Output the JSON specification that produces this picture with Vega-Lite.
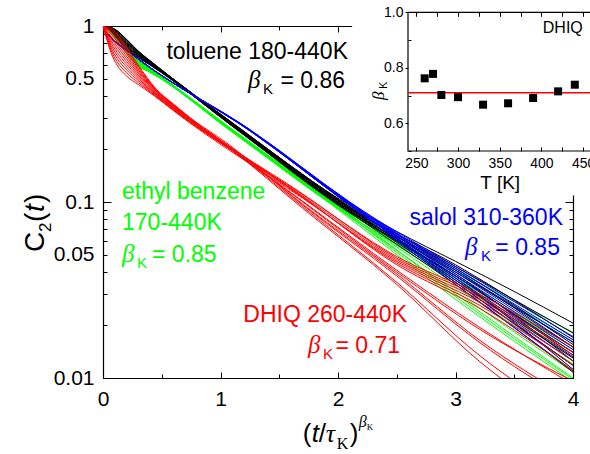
{
"$schema":"https://vega.github.io/schema/vega-lite/v6.json",
"width":470,"height":352,
"autosize":{"type":"none"},
"padding":{"left":103,"top":26,"right":17,"bottom":76},
"background":"white",
"config":{"view":{"stroke":null},"axis":{"labelFont":"Liberation Sans","titleFont":"Liberation Sans"}},
"datasets":{
"curves":[
{"g":"k","c":"k0","x":0,"y":1},{"g":"k","c":"k0","x":0.05,"y":0.99},{"g":"k","c":"k0","x":0.1,"y":0.96},{"g":"k","c":"k0","x":0.2,"y":0.84},{"g":"k","c":"k0","x":0.3,"y":0.72},{"g":"k","c":"k0","x":0.4,"y":0.635},{"g":"k","c":"k0","x":1.15,"y":0.266},{"g":"k","c":"k0","x":2,"y":0.104},{"g":"k","c":"k0","x":3,"y":0.04},{"g":"k","c":"k0","x":4,"y":0.016},
{"g":"k","c":"k1","x":0,"y":1},{"g":"k","c":"k1","x":0.05,"y":0.987},{"g":"k","c":"k1","x":0.1,"y":0.953},{"g":"k","c":"k1","x":0.2,"y":0.831},{"g":"k","c":"k1","x":0.3,"y":0.715},{"g":"k","c":"k1","x":0.4,"y":0.632},{"g":"k","c":"k1","x":1.15,"y":0.265},{"g":"k","c":"k1","x":2,"y":0.103},{"g":"k","c":"k1","x":3,"y":0.043},{"g":"k","c":"k1","x":4,"y":0.018},
{"g":"k","c":"k2","x":0,"y":1},{"g":"k","c":"k2","x":0.05,"y":0.985},{"g":"k","c":"k2","x":0.1,"y":0.945},{"g":"k","c":"k2","x":0.2,"y":0.822},{"g":"k","c":"k2","x":0.3,"y":0.709},{"g":"k","c":"k2","x":0.4,"y":0.629},{"g":"k","c":"k2","x":1.15,"y":0.264},{"g":"k","c":"k2","x":2,"y":0.103},{"g":"k","c":"k2","x":3,"y":0.036},{"g":"k","c":"k2","x":4,"y":0.013},
{"g":"k","c":"k3","x":0,"y":1},{"g":"k","c":"k3","x":0.05,"y":0.982},{"g":"k","c":"k3","x":0.1,"y":0.938},{"g":"k","c":"k3","x":0.2,"y":0.813},{"g":"k","c":"k3","x":0.3,"y":0.704},{"g":"k","c":"k3","x":0.4,"y":0.625},{"g":"k","c":"k3","x":1.15,"y":0.263},{"g":"k","c":"k3","x":2,"y":0.102},{"g":"k","c":"k3","x":3,"y":0.041},{"g":"k","c":"k3","x":4,"y":0.015},
{"g":"k","c":"k4","x":0,"y":1},{"g":"k","c":"k4","x":0.05,"y":0.979},{"g":"k","c":"k4","x":0.1,"y":0.931},{"g":"k","c":"k4","x":0.2,"y":0.804},{"g":"k","c":"k4","x":0.3,"y":0.698},{"g":"k","c":"k4","x":0.4,"y":0.622},{"g":"k","c":"k4","x":1.15,"y":0.262},{"g":"k","c":"k4","x":2,"y":0.101},{"g":"k","c":"k4","x":3,"y":0.038},{"g":"k","c":"k4","x":4,"y":0.014},
{"g":"k","c":"k5","x":0,"y":1},{"g":"k","c":"k5","x":0.05,"y":0.976},{"g":"k","c":"k5","x":0.1,"y":0.924},{"g":"k","c":"k5","x":0.2,"y":0.795},{"g":"k","c":"k5","x":0.3,"y":0.693},{"g":"k","c":"k5","x":0.4,"y":0.619},{"g":"k","c":"k5","x":1.15,"y":0.261},{"g":"k","c":"k5","x":2,"y":0.1},{"g":"k","c":"k5","x":3,"y":0.044},{"g":"k","c":"k5","x":4,"y":0.017},
{"g":"k","c":"k6","x":0,"y":1},{"g":"k","c":"k6","x":0.05,"y":0.974},{"g":"k","c":"k6","x":0.1,"y":0.916},{"g":"k","c":"k6","x":0.2,"y":0.785},{"g":"k","c":"k6","x":0.3,"y":0.687},{"g":"k","c":"k6","x":0.4,"y":0.616},{"g":"k","c":"k6","x":1.15,"y":0.259},{"g":"k","c":"k6","x":2,"y":0.1},{"g":"k","c":"k6","x":3,"y":0.035},{"g":"k","c":"k6","x":4,"y":0.0118},
{"g":"k","c":"k7","x":0,"y":1},{"g":"k","c":"k7","x":0.05,"y":0.971},{"g":"k","c":"k7","x":0.1,"y":0.909},{"g":"k","c":"k7","x":0.2,"y":0.776},{"g":"k","c":"k7","x":0.3,"y":0.682},{"g":"k","c":"k7","x":0.4,"y":0.613},{"g":"k","c":"k7","x":1.15,"y":0.258},{"g":"k","c":"k7","x":2,"y":0.099},{"g":"k","c":"k7","x":3,"y":0.039},{"g":"k","c":"k7","x":4,"y":0.0125},
{"g":"k","c":"k8","x":0,"y":1},{"g":"k","c":"k8","x":0.05,"y":0.968},{"g":"k","c":"k8","x":0.1,"y":0.902},{"g":"k","c":"k8","x":0.2,"y":0.767},{"g":"k","c":"k8","x":0.3,"y":0.676},{"g":"k","c":"k8","x":0.4,"y":0.61},{"g":"k","c":"k8","x":1.15,"y":0.257},{"g":"k","c":"k8","x":2,"y":0.098},{"g":"k","c":"k8","x":3,"y":0.037},{"g":"k","c":"k8","x":4,"y":0.0112},
{"g":"k","c":"k9","x":0,"y":1},{"g":"k","c":"k9","x":0.05,"y":0.965},{"g":"k","c":"k9","x":0.1,"y":0.895},{"g":"k","c":"k9","x":0.2,"y":0.758},{"g":"k","c":"k9","x":0.3,"y":0.671},{"g":"k","c":"k9","x":0.4,"y":0.606},{"g":"k","c":"k9","x":1.15,"y":0.256},{"g":"k","c":"k9","x":2,"y":0.097},{"g":"k","c":"k9","x":3,"y":0.042},{"g":"k","c":"k9","x":4,"y":0.0155},
{"g":"k","c":"k10","x":0,"y":1},{"g":"k","c":"k10","x":0.05,"y":0.963},{"g":"k","c":"k10","x":0.1,"y":0.887},{"g":"k","c":"k10","x":0.2,"y":0.749},{"g":"k","c":"k10","x":0.3,"y":0.665},{"g":"k","c":"k10","x":0.4,"y":0.603},{"g":"k","c":"k10","x":1.15,"y":0.255},{"g":"k","c":"k10","x":2,"y":0.097},{"g":"k","c":"k10","x":3,"y":0.034},{"g":"k","c":"k10","x":4,"y":0.0108},
{"g":"k","c":"k11","x":0,"y":1},{"g":"k","c":"k11","x":0.05,"y":0.96},{"g":"k","c":"k11","x":0.1,"y":0.88},{"g":"k","c":"k11","x":0.2,"y":0.74},{"g":"k","c":"k11","x":0.3,"y":0.66},{"g":"k","c":"k11","x":0.4,"y":0.6},{"g":"k","c":"k11","x":1.15,"y":0.254},{"g":"k","c":"k11","x":2,"y":0.096},{"g":"k","c":"k11","x":3,"y":0.038},{"g":"k","c":"k11","x":4,"y":0.0135},
{"g":"k","c":"k12","x":0,"y":1},{"g":"k","c":"k12","x":0.05,"y":0.99},{"g":"k","c":"k12","x":0.1,"y":0.96},{"g":"k","c":"k12","x":0.2,"y":0.84},{"g":"k","c":"k12","x":0.3,"y":0.72},{"g":"k","c":"k12","x":0.4,"y":0.635},{"g":"k","c":"k12","x":1.15,"y":0.267},{"g":"k","c":"k12","x":2,"y":0.105},{"g":"k","c":"k12","x":2.5,"y":0.068},{"g":"k","c":"k12","x":3,"y":0.046},{"g":"k","c":"k12","x":3.5,"y":0.031},{"g":"k","c":"k12","x":4,"y":0.0205},
{"g":"g","c":"g0","x":0,"y":1},{"g":"g","c":"g0","x":0.05,"y":0.98},{"g":"g","c":"g0","x":0.1,"y":0.93},{"g":"g","c":"g0","x":0.2,"y":0.78},{"g":"g","c":"g0","x":0.3,"y":0.64},{"g":"g","c":"g0","x":0.4,"y":0.575},{"g":"g","c":"g0","x":1.08,"y":0.265},{"g":"g","c":"g0","x":1.95,"y":0.102},{"g":"g","c":"g0","x":3,"y":0.036},{"g":"g","c":"g0","x":4,"y":0.014},
{"g":"g","c":"g1","x":0,"y":1},{"g":"g","c":"g1","x":0.05,"y":0.976},{"g":"g","c":"g1","x":0.1,"y":0.922},{"g":"g","c":"g1","x":0.2,"y":0.772},{"g":"g","c":"g1","x":0.3,"y":0.635},{"g":"g","c":"g1","x":0.4,"y":0.572},{"g":"g","c":"g1","x":1.08,"y":0.264},{"g":"g","c":"g1","x":1.95,"y":0.1014},{"g":"g","c":"g1","x":3,"y":0.041},{"g":"g","c":"g1","x":4,"y":0.0182},
{"g":"g","c":"g2","x":0,"y":1},{"g":"g","c":"g2","x":0.05,"y":0.972},{"g":"g","c":"g2","x":0.1,"y":0.914},{"g":"g","c":"g2","x":0.2,"y":0.764},{"g":"g","c":"g2","x":0.3,"y":0.63},{"g":"g","c":"g2","x":0.4,"y":0.569},{"g":"g","c":"g2","x":1.08,"y":0.263},{"g":"g","c":"g2","x":1.95,"y":0.1008},{"g":"g","c":"g2","x":3,"y":0.03},{"g":"g","c":"g2","x":4,"y":0.01},
{"g":"g","c":"g3","x":0,"y":1},{"g":"g","c":"g3","x":0.05,"y":0.968},{"g":"g","c":"g3","x":0.1,"y":0.906},{"g":"g","c":"g3","x":0.2,"y":0.756},{"g":"g","c":"g3","x":0.3,"y":0.625},{"g":"g","c":"g3","x":0.4,"y":0.566},{"g":"g","c":"g3","x":1.08,"y":0.262},{"g":"g","c":"g3","x":1.95,"y":0.1002},{"g":"g","c":"g3","x":3,"y":0.038},{"g":"g","c":"g3","x":4,"y":0.015},
{"g":"g","c":"g4","x":0,"y":1},{"g":"g","c":"g4","x":0.05,"y":0.964},{"g":"g","c":"g4","x":0.1,"y":0.898},{"g":"g","c":"g4","x":0.2,"y":0.748},{"g":"g","c":"g4","x":0.3,"y":0.62},{"g":"g","c":"g4","x":0.4,"y":0.563},{"g":"g","c":"g4","x":1.08,"y":0.261},{"g":"g","c":"g4","x":1.95,"y":0.0996},{"g":"g","c":"g4","x":3,"y":0.033},{"g":"g","c":"g4","x":4,"y":0.012},
{"g":"g","c":"g5","x":0,"y":1},{"g":"g","c":"g5","x":0.05,"y":0.96},{"g":"g","c":"g5","x":0.1,"y":0.89},{"g":"g","c":"g5","x":0.2,"y":0.74},{"g":"g","c":"g5","x":0.3,"y":0.615},{"g":"g","c":"g5","x":0.4,"y":0.56},{"g":"g","c":"g5","x":1.08,"y":0.26},{"g":"g","c":"g5","x":1.95,"y":0.099},{"g":"g","c":"g5","x":3,"y":0.04},{"g":"g","c":"g5","x":4,"y":0.0165},
{"g":"g","c":"g6","x":0,"y":1},{"g":"g","c":"g6","x":0.05,"y":0.956},{"g":"g","c":"g6","x":0.1,"y":0.882},{"g":"g","c":"g6","x":0.2,"y":0.732},{"g":"g","c":"g6","x":0.3,"y":0.61},{"g":"g","c":"g6","x":0.4,"y":0.557},{"g":"g","c":"g6","x":1.08,"y":0.259},{"g":"g","c":"g6","x":1.95,"y":0.0984},{"g":"g","c":"g6","x":3,"y":0.029},{"g":"g","c":"g6","x":4,"y":0.0098},
{"g":"g","c":"g7","x":0,"y":1},{"g":"g","c":"g7","x":0.05,"y":0.952},{"g":"g","c":"g7","x":0.1,"y":0.874},{"g":"g","c":"g7","x":0.2,"y":0.724},{"g":"g","c":"g7","x":0.3,"y":0.605},{"g":"g","c":"g7","x":0.4,"y":0.554},{"g":"g","c":"g7","x":1.08,"y":0.258},{"g":"g","c":"g7","x":1.95,"y":0.0978},{"g":"g","c":"g7","x":3,"y":0.035},{"g":"g","c":"g7","x":4,"y":0.013},
{"g":"g","c":"g8","x":0,"y":1},{"g":"g","c":"g8","x":0.05,"y":0.948},{"g":"g","c":"g8","x":0.1,"y":0.866},{"g":"g","c":"g8","x":0.2,"y":0.716},{"g":"g","c":"g8","x":0.3,"y":0.6},{"g":"g","c":"g8","x":0.4,"y":0.551},{"g":"g","c":"g8","x":1.08,"y":0.257},{"g":"g","c":"g8","x":1.95,"y":0.0972},{"g":"g","c":"g8","x":3,"y":0.031},{"g":"g","c":"g8","x":4,"y":0.0108},
{"g":"g","c":"g9","x":0,"y":1},{"g":"g","c":"g9","x":0.05,"y":0.944},{"g":"g","c":"g9","x":0.1,"y":0.858},{"g":"g","c":"g9","x":0.2,"y":0.708},{"g":"g","c":"g9","x":0.3,"y":0.595},{"g":"g","c":"g9","x":0.4,"y":0.548},{"g":"g","c":"g9","x":1.08,"y":0.256},{"g":"g","c":"g9","x":1.95,"y":0.0966},{"g":"g","c":"g9","x":3,"y":0.037},{"g":"g","c":"g9","x":4,"y":0.0145},
{"g":"g","c":"g10","x":0,"y":1},{"g":"g","c":"g10","x":0.05,"y":0.94},{"g":"g","c":"g10","x":0.1,"y":0.85},{"g":"g","c":"g10","x":0.2,"y":0.7},{"g":"g","c":"g10","x":0.3,"y":0.59},{"g":"g","c":"g10","x":0.4,"y":0.545},{"g":"g","c":"g10","x":1.08,"y":0.255},{"g":"g","c":"g10","x":1.95,"y":0.096},{"g":"g","c":"g10","x":3,"y":0.028},{"g":"g","c":"g10","x":4,"y":0.0095},
{"g":"b","c":"b0","x":0,"y":0.96},{"g":"b","c":"b0","x":0.05,"y":0.885},{"g":"b","c":"b0","x":0.1,"y":0.82},{"g":"b","c":"b0","x":0.2,"y":0.73},{"g":"b","c":"b0","x":0.34,"y":0.62},{"g":"b","c":"b0","x":1.25,"y":0.258},{"g":"b","c":"b0","x":2.1,"y":0.1},{"g":"b","c":"b0","x":3,"y":0.041},{"g":"b","c":"b0","x":4,"y":0.016},
{"g":"b","c":"b1","x":0,"y":0.96},{"g":"b","c":"b1","x":0.05,"y":0.888},{"g":"b","c":"b1","x":0.1,"y":0.824},{"g":"b","c":"b1","x":0.2,"y":0.732},{"g":"b","c":"b1","x":0.34,"y":0.621},{"g":"b","c":"b1","x":1.25,"y":0.2575},{"g":"b","c":"b1","x":2.1,"y":0.0995},{"g":"b","c":"b1","x":3,"y":0.043},{"g":"b","c":"b1","x":4,"y":0.0172},
{"g":"b","c":"b2","x":0,"y":0.96},{"g":"b","c":"b2","x":0.05,"y":0.882},{"g":"b","c":"b2","x":0.1,"y":0.816},{"g":"b","c":"b2","x":0.2,"y":0.728},{"g":"b","c":"b2","x":0.34,"y":0.619},{"g":"b","c":"b2","x":1.25,"y":0.257},{"g":"b","c":"b2","x":2.1,"y":0.099},{"g":"b","c":"b2","x":3,"y":0.038},{"g":"b","c":"b2","x":4,"y":0.014},
{"g":"b","c":"b3","x":0,"y":0.96},{"g":"b","c":"b3","x":0.05,"y":0.885},{"g":"b","c":"b3","x":0.1,"y":0.82},{"g":"b","c":"b3","x":0.2,"y":0.73},{"g":"b","c":"b3","x":0.34,"y":0.62},{"g":"b","c":"b3","x":1.25,"y":0.2565},{"g":"b","c":"b3","x":2.1,"y":0.0985},{"g":"b","c":"b3","x":3,"y":0.04},{"g":"b","c":"b3","x":4,"y":0.015},
{"g":"b","c":"b4","x":0,"y":0.96},{"g":"b","c":"b4","x":0.05,"y":0.888},{"g":"b","c":"b4","x":0.1,"y":0.824},{"g":"b","c":"b4","x":0.2,"y":0.732},{"g":"b","c":"b4","x":0.34,"y":0.621},{"g":"b","c":"b4","x":1.25,"y":0.256},{"g":"b","c":"b4","x":2.1,"y":0.098},{"g":"b","c":"b4","x":3,"y":0.036},{"g":"b","c":"b4","x":4,"y":0.0125},
{"g":"b","c":"b5","x":0,"y":0.96},{"g":"b","c":"b5","x":0.05,"y":0.882},{"g":"b","c":"b5","x":0.1,"y":0.816},{"g":"b","c":"b5","x":0.2,"y":0.728},{"g":"b","c":"b5","x":0.34,"y":0.619},{"g":"b","c":"b5","x":1.25,"y":0.2555},{"g":"b","c":"b5","x":2.1,"y":0.0975},{"g":"b","c":"b5","x":3,"y":0.042},{"g":"b","c":"b5","x":4,"y":0.0165},
{"g":"b","c":"b6","x":0,"y":0.96},{"g":"b","c":"b6","x":0.05,"y":0.885},{"g":"b","c":"b6","x":0.1,"y":0.82},{"g":"b","c":"b6","x":0.2,"y":0.73},{"g":"b","c":"b6","x":0.34,"y":0.62},{"g":"b","c":"b6","x":1.25,"y":0.255},{"g":"b","c":"b6","x":2.1,"y":0.097},{"g":"b","c":"b6","x":3,"y":0.035},{"g":"b","c":"b6","x":4,"y":0.0118},
{"g":"b","c":"b7","x":0,"y":0.96},{"g":"b","c":"b7","x":0.05,"y":0.888},{"g":"b","c":"b7","x":0.1,"y":0.824},{"g":"b","c":"b7","x":0.2,"y":0.732},{"g":"b","c":"b7","x":0.34,"y":0.621},{"g":"b","c":"b7","x":1.25,"y":0.2545},{"g":"b","c":"b7","x":2.1,"y":0.0965},{"g":"b","c":"b7","x":3,"y":0.039},{"g":"b","c":"b7","x":4,"y":0.0145},
{"g":"b","c":"b8","x":0,"y":0.96},{"g":"b","c":"b8","x":0.05,"y":0.882},{"g":"b","c":"b8","x":0.1,"y":0.816},{"g":"b","c":"b8","x":0.2,"y":0.728},{"g":"b","c":"b8","x":0.34,"y":0.619},{"g":"b","c":"b8","x":1.25,"y":0.254},{"g":"b","c":"b8","x":2.1,"y":0.096},{"g":"b","c":"b8","x":3,"y":0.037},{"g":"b","c":"b8","x":4,"y":0.0132},
{"g":"b","c":"b9","x":0,"y":0.96},{"g":"b","c":"b9","x":0.05,"y":0.885},{"g":"b","c":"b9","x":0.1,"y":0.82},{"g":"b","c":"b9","x":0.2,"y":0.73},{"g":"b","c":"b9","x":0.34,"y":0.62},{"g":"b","c":"b9","x":1.25,"y":0.2535},{"g":"b","c":"b9","x":2.1,"y":0.0955},{"g":"b","c":"b9","x":3,"y":0.034},{"g":"b","c":"b9","x":4,"y":0.011},
{"g":"r","c":"r0","x":0,"y":1},{"g":"r","c":"r0","x":0.03,"y":0.85},{"g":"r","c":"r0","x":0.07,"y":0.7},{"g":"r","c":"r0","x":0.12,"y":0.6},{"g":"r","c":"r0","x":0.2,"y":0.52},{"g":"r","c":"r0","x":0.3,"y":0.465},{"g":"r","c":"r0","x":0.45,"y":0.395},{"g":"r","c":"r0","x":0.6,"y":0.33},{"g":"r","c":"r0","x":1.7,"y":0.105},{"g":"r","c":"r0","x":2.5,"y":0.046},{"g":"r","c":"r0","x":3.2,"y":0.027},{"g":"r","c":"r0","x":4,"y":0.0125},
{"g":"r","c":"r1","x":0,"y":1},{"g":"r","c":"r1","x":0.03,"y":0.863},{"g":"r","c":"r1","x":0.07,"y":0.725},{"g":"r","c":"r1","x":0.12,"y":0.627},{"g":"r","c":"r1","x":0.2,"y":0.542},{"g":"r","c":"r1","x":0.3,"y":0.477},{"g":"r","c":"r1","x":0.45,"y":0.399},{"g":"r","c":"r1","x":0.6,"y":0.333},{"g":"r","c":"r1","x":1.7,"y":0.11},{"g":"r","c":"r1","x":2.5,"y":0.049},{"g":"r","c":"r1","x":3.2,"y":0.03},{"g":"r","c":"r1","x":4,"y":0.015},
{"g":"r","c":"r2","x":0,"y":1},{"g":"r","c":"r2","x":0.03,"y":0.875},{"g":"r","c":"r2","x":0.07,"y":0.749},{"g":"r","c":"r2","x":0.12,"y":0.655},{"g":"r","c":"r2","x":0.2,"y":0.564},{"g":"r","c":"r2","x":0.3,"y":0.49},{"g":"r","c":"r2","x":0.45,"y":0.403},{"g":"r","c":"r2","x":0.6,"y":0.335},{"g":"r","c":"r2","x":1.1,"y":0.198},{"g":"r","c":"r2","x":1.7,"y":0.094},{"g":"r","c":"r2","x":2.5,"y":0.035},{"g":"r","c":"r2","x":3.2,"y":0.0135},{"g":"r","c":"r2","x":4,"y":0.0058},
{"g":"r","c":"r3","x":0,"y":1},{"g":"r","c":"r3","x":0.03,"y":0.888},{"g":"r","c":"r3","x":0.07,"y":0.774},{"g":"r","c":"r3","x":0.12,"y":0.682},{"g":"r","c":"r3","x":0.2,"y":0.585},{"g":"r","c":"r3","x":0.3,"y":0.502},{"g":"r","c":"r3","x":0.45,"y":0.407},{"g":"r","c":"r3","x":0.6,"y":0.338},{"g":"r","c":"r3","x":1.7,"y":0.108},{"g":"r","c":"r3","x":2.5,"y":0.047},{"g":"r","c":"r3","x":3.2,"y":0.028},{"g":"r","c":"r3","x":4,"y":0.0135},
{"g":"r","c":"r4","x":0,"y":1},{"g":"r","c":"r4","x":0.03,"y":0.901},{"g":"r","c":"r4","x":0.07,"y":0.798},{"g":"r","c":"r4","x":0.12,"y":0.709},{"g":"r","c":"r4","x":0.2,"y":0.607},{"g":"r","c":"r4","x":0.3,"y":0.514},{"g":"r","c":"r4","x":0.45,"y":0.411},{"g":"r","c":"r4","x":0.6,"y":0.341},{"g":"r","c":"r4","x":1.1,"y":0.202},{"g":"r","c":"r4","x":1.7,"y":0.097},{"g":"r","c":"r4","x":2.5,"y":0.039},{"g":"r","c":"r4","x":3.2,"y":0.0165},{"g":"r","c":"r4","x":4,"y":0.0075},
{"g":"r","c":"r5","x":0,"y":1},{"g":"r","c":"r5","x":0.03,"y":0.914},{"g":"r","c":"r5","x":0.07,"y":0.823},{"g":"r","c":"r5","x":0.12,"y":0.736},{"g":"r","c":"r5","x":0.2,"y":0.629},{"g":"r","c":"r5","x":0.3,"y":0.526},{"g":"r","c":"r5","x":0.45,"y":0.415},{"g":"r","c":"r5","x":0.6,"y":0.344},{"g":"r","c":"r5","x":1.7,"y":0.111},{"g":"r","c":"r5","x":2.5,"y":0.048},{"g":"r","c":"r5","x":3.2,"y":0.029},{"g":"r","c":"r5","x":4,"y":0.014},
{"g":"r","c":"r6","x":0,"y":1},{"g":"r","c":"r6","x":0.03,"y":0.926},{"g":"r","c":"r6","x":0.07,"y":0.847},{"g":"r","c":"r6","x":0.12,"y":0.764},{"g":"r","c":"r6","x":0.2,"y":0.651},{"g":"r","c":"r6","x":0.3,"y":0.539},{"g":"r","c":"r6","x":0.45,"y":0.42},{"g":"r","c":"r6","x":0.6,"y":0.346},{"g":"r","c":"r6","x":1.1,"y":0.197},{"g":"r","c":"r6","x":1.7,"y":0.092},{"g":"r","c":"r6","x":2.5,"y":0.034},{"g":"r","c":"r6","x":3.2,"y":0.0125},{"g":"r","c":"r6","x":4,"y":0.0052},
{"g":"r","c":"r7","x":0,"y":1},{"g":"r","c":"r7","x":0.03,"y":0.939},{"g":"r","c":"r7","x":0.07,"y":0.872},{"g":"r","c":"r7","x":0.12,"y":0.791},{"g":"r","c":"r7","x":0.2,"y":0.673},{"g":"r","c":"r7","x":0.3,"y":0.551},{"g":"r","c":"r7","x":0.45,"y":0.424},{"g":"r","c":"r7","x":0.6,"y":0.349},{"g":"r","c":"r7","x":1.7,"y":0.106},{"g":"r","c":"r7","x":2.5,"y":0.045},{"g":"r","c":"r7","x":3.2,"y":0.026},{"g":"r","c":"r7","x":4,"y":0.0118},
{"g":"r","c":"r8","x":0,"y":1},{"g":"r","c":"r8","x":0.03,"y":0.952},{"g":"r","c":"r8","x":0.07,"y":0.896},{"g":"r","c":"r8","x":0.12,"y":0.818},{"g":"r","c":"r8","x":0.2,"y":0.695},{"g":"r","c":"r8","x":0.3,"y":0.563},{"g":"r","c":"r8","x":0.45,"y":0.428},{"g":"r","c":"r8","x":0.6,"y":0.352},{"g":"r","c":"r8","x":1.1,"y":0.205},{"g":"r","c":"r8","x":1.7,"y":0.096},{"g":"r","c":"r8","x":2.5,"y":0.038},{"g":"r","c":"r8","x":3.2,"y":0.016},{"g":"r","c":"r8","x":4,"y":0.0072},
{"g":"r","c":"r9","x":0,"y":1},{"g":"r","c":"r9","x":0.03,"y":0.965},{"g":"r","c":"r9","x":0.07,"y":0.921},{"g":"r","c":"r9","x":0.12,"y":0.845},{"g":"r","c":"r9","x":0.2,"y":0.716},{"g":"r","c":"r9","x":0.3,"y":0.575},{"g":"r","c":"r9","x":0.45,"y":0.432},{"g":"r","c":"r9","x":0.6,"y":0.355},{"g":"r","c":"r9","x":1.7,"y":0.101},{"g":"r","c":"r9","x":2.5,"y":0.041},{"g":"r","c":"r9","x":3.2,"y":0.0195},{"g":"r","c":"r9","x":4,"y":0.0092},
{"g":"r","c":"r10","x":0,"y":1},{"g":"r","c":"r10","x":0.03,"y":0.977},{"g":"r","c":"r10","x":0.07,"y":0.945},{"g":"r","c":"r10","x":0.12,"y":0.873},{"g":"r","c":"r10","x":0.2,"y":0.738},{"g":"r","c":"r10","x":0.3,"y":0.588},{"g":"r","c":"r10","x":0.45,"y":0.436},{"g":"r","c":"r10","x":0.6,"y":0.357},{"g":"r","c":"r10","x":1.7,"y":0.1},{"g":"r","c":"r10","x":2.5,"y":0.04},{"g":"r","c":"r10","x":3.2,"y":0.019},{"g":"r","c":"r10","x":4,"y":0.0096},
{"g":"r","c":"r11","x":0,"y":1},{"g":"r","c":"r11","x":0.03,"y":0.99},{"g":"r","c":"r11","x":0.07,"y":0.97},{"g":"r","c":"r11","x":0.12,"y":0.9},{"g":"r","c":"r11","x":0.2,"y":0.76},{"g":"r","c":"r11","x":0.3,"y":0.6},{"g":"r","c":"r11","x":0.45,"y":0.44},{"g":"r","c":"r11","x":0.6,"y":0.36},{"g":"r","c":"r11","x":1.7,"y":0.107},{"g":"r","c":"r11","x":2.5,"y":0.044},{"g":"r","c":"r11","x":3.2,"y":0.025},{"g":"r","c":"r11","x":4,"y":0.011}
],
"beta":[{"T":260,"b":0.762},{"T":270,"b":0.778},{"T":280,"b":0.702},{"T":300,"b":0.694},{"T":330,"b":0.667},{"T":360,"b":0.672},{"T":390,"b":0.691},{"T":420,"b":0.715},{"T":440,"b":0.739}]
},
"layer":[
{
"layer":[
{"data":{"name":"curves"},"transform":[{"filter":"datum.g == 'g'"}],
 "mark":{"type":"line","color":"#00ff00","strokeWidth":1,"clip":true,"interpolate":"monotone"},
 "encoding":{
  "x":{"field":"x","type":"quantitative","scale":{"domain":[0,4],"nice":false,"zero":false},
   "axis":{"orient":"bottom","values":[0,0.5,1,1.5,2,2.5,3,3.5,4],"format":"~g","labelExpr":"datum.value % 1 == 0 ? datum.label : ''","tickSize":{"condition":{"test":"datum.value % 1 == 0","value":-6},"value":-4},"labelPadding":16,"labelFontSize":21,"labelColor":"#000","labelFlush":false,"labelOverlap":false,"tickColor":"#000","domainColor":"#000","domainWidth":1.2,"grid":false,"title":null}},
  "y":{"field":"y","type":"quantitative","scale":{"type":"log","domain":[0.01,1],"nice":false},
   "axis":{"orient":"left","values":[0.01,0.02,0.03,0.04,0.05,0.06,0.07,0.08,0.09,0.1,0.2,0.3,0.4,0.5,0.6,0.7,0.8,0.9,1],"format":"~g","labelExpr":"indexof([0.01,0.05,0.1,0.5,1], datum.value) >= 0 ? datum.label : ''","tickSize":{"condition":{"test":"indexof([0.01,0.1,1], datum.value) >= 0","value":-8},"value":-4},"labelPadding":{"condition":{"test":"indexof([0.01,0.1,1], datum.value) >= 0","value":17},"value":13},"labelFontSize":21,"labelColor":"#000","labelFlush":false,"labelOverlap":false,"tickColor":"#000","domainColor":"#000","domainWidth":1.2,"grid":false,"title":null}},
  "detail":{"field":"c"}}},
{"data":{"name":"curves"},"transform":[{"filter":"datum.g == 'k'"}],
 "mark":{"type":"line","color":"#000000","strokeWidth":1,"clip":true,"interpolate":"monotone"},
 "encoding":{
  "x":{"field":"x","type":"quantitative",
   "axis":{"orient":"top","values":[0,0.5,1,1.5,2,2.5,3,3.5,4],"labels":false,"tickSize":{"condition":{"test":"datum.value % 1 == 0","value":-6},"value":-4},"tickColor":"#000","domainColor":"#000","domainWidth":1.2,"grid":false,"title":null}},
  "y":{"field":"y","type":"quantitative",
   "axis":{"orient":"right","values":[0.01,0.02,0.03,0.04,0.05,0.06,0.07,0.08,0.09,0.1,0.2,0.3,0.4,0.5,0.6,0.7,0.8,0.9,1],"labels":false,"tickSize":{"condition":{"test":"indexof([0.01,0.1,1], datum.value) >= 0","value":-8},"value":-4},"tickColor":"#000","domainColor":"#000","domainWidth":1.2,"grid":false,"title":null}},
  "detail":{"field":"c"}}},
{"data":{"name":"curves"},"transform":[{"filter":"datum.g == 'b'"}],
 "mark":{"type":"line","color":"#0000ff","strokeWidth":1,"clip":true,"interpolate":"monotone"},
 "encoding":{"x":{"field":"x","type":"quantitative","axis":null},"y":{"field":"y","type":"quantitative","axis":null},"detail":{"field":"c"}}},
{"data":{"name":"curves"},"transform":[{"filter":"datum.g == 'r'"}],
 "mark":{"type":"line","color":"#ff0000","strokeWidth":1,"clip":true,"interpolate":"monotone"},
 "encoding":{"x":{"field":"x","type":"quantitative","axis":null},"y":{"field":"y","type":"quantitative","axis":null},"detail":{"field":"c"}}},

{"data":{"values":[{}]},"mark":{"type":"text","text":"toluene 180-440K","align":"right","baseline":"alphabetic","font":"Liberation Sans","fontSize":23,"color":"#000000"},"encoding":{"x":{"datum":2.085,"type":"quantitative","axis":null},"y":{"datum":0.649,"type":"quantitative","axis":null}}},
{"data":{"values":[{}]},"mark":{"type":"text","text":"= 0.86","align":"right","baseline":"alphabetic","font":"Liberation Sans","fontSize":23,"color":"#000000"},"encoding":{"x":{"datum":2.06,"type":"quantitative","axis":null},"y":{"datum":0.444,"type":"quantitative","axis":null}}},
{"data":{"values":[{}]},"mark":{"type":"text","text":"β","align":"left","baseline":"alphabetic","font":"Liberation Serif","fontStyle":"italic","fontSize":25,"dx":-97,"color":"#000000"},"encoding":{"x":{"datum":2.06,"type":"quantitative","axis":null},"y":{"datum":0.444,"type":"quantitative","axis":null}}},
{"data":{"values":[{}]},"mark":{"type":"text","text":"K","align":"left","baseline":"alphabetic","font":"Liberation Sans","fontSize":15,"dx":-82,"dy":6,"color":"#000000"},"encoding":{"x":{"datum":2.06,"type":"quantitative","axis":null},"y":{"datum":0.444,"type":"quantitative","axis":null}}},

{"data":{"values":[{}]},"mark":{"type":"text","text":"ethyl benzene","align":"left","baseline":"alphabetic","font":"Liberation Sans","fontSize":23,"color":"#00ff00"},"encoding":{"x":{"datum":0.162,"type":"quantitative","axis":null},"y":{"datum":0.1034,"type":"quantitative","axis":null}}},
{"data":{"values":[{}]},"mark":{"type":"text","text":"170-440K","align":"left","baseline":"alphabetic","font":"Liberation Sans","fontSize":23,"color":"#00ff00"},"encoding":{"x":{"datum":0.162,"type":"quantitative","axis":null},"y":{"datum":0.0693,"type":"quantitative","axis":null}}},
{"data":{"values":[{}]},"mark":{"type":"text","text":"β","align":"left","baseline":"alphabetic","font":"Liberation Serif","fontStyle":"italic","fontSize":25,"color":"#00ff00"},"encoding":{"x":{"datum":0.162,"type":"quantitative","axis":null},"y":{"datum":0.0456,"type":"quantitative","axis":null}}},
{"data":{"values":[{}]},"mark":{"type":"text","text":"K","align":"left","baseline":"alphabetic","font":"Liberation Sans","fontSize":15,"dx":15,"dy":6,"color":"#00ff00"},"encoding":{"x":{"datum":0.162,"type":"quantitative","axis":null},"y":{"datum":0.0456,"type":"quantitative","axis":null}}},
{"data":{"values":[{}]},"mark":{"type":"text","text":"= 0.85","align":"left","baseline":"alphabetic","font":"Liberation Sans","fontSize":23,"dx":30,"color":"#00ff00"},"encoding":{"x":{"datum":0.162,"type":"quantitative","axis":null},"y":{"datum":0.0456,"type":"quantitative","axis":null}}},

{"data":{"values":[{}]},"mark":{"type":"text","text":"salol 310-360K","align":"right","baseline":"alphabetic","font":"Liberation Sans","fontSize":23,"color":"#0000ff"},"encoding":{"x":{"datum":3.915,"type":"quantitative","axis":null},"y":{"datum":0.074,"type":"quantitative","axis":null}}},
{"data":{"values":[{}]},"mark":{"type":"text","text":"= 0.85","align":"right","baseline":"alphabetic","font":"Liberation Sans","fontSize":23,"color":"#0000ff"},"encoding":{"x":{"datum":3.889,"type":"quantitative","axis":null},"y":{"datum":0.05,"type":"quantitative","axis":null}}},
{"data":{"values":[{}]},"mark":{"type":"text","text":"β","align":"left","baseline":"alphabetic","font":"Liberation Serif","fontStyle":"italic","fontSize":25,"dx":-95,"color":"#0000ff"},"encoding":{"x":{"datum":3.889,"type":"quantitative","axis":null},"y":{"datum":0.05,"type":"quantitative","axis":null}}},
{"data":{"values":[{}]},"mark":{"type":"text","text":"K","align":"left","baseline":"alphabetic","font":"Liberation Sans","fontSize":15,"dx":-79,"dy":6,"color":"#0000ff"},"encoding":{"x":{"datum":3.889,"type":"quantitative","axis":null},"y":{"datum":0.05,"type":"quantitative","axis":null}}},

{"data":{"values":[{}]},"mark":{"type":"text","text":"DHIQ 260-440K","align":"right","baseline":"alphabetic","font":"Liberation Sans","fontSize":23,"color":"#ff0000"},"encoding":{"x":{"datum":2.587,"type":"quantitative","axis":null},"y":{"datum":0.0208,"type":"quantitative","axis":null}}},
{"data":{"values":[{}]},"mark":{"type":"text","text":"= 0.71","align":"right","baseline":"alphabetic","font":"Liberation Sans","fontSize":23,"color":"#ff0000"},"encoding":{"x":{"datum":2.528,"type":"quantitative","axis":null},"y":{"datum":0.01387,"type":"quantitative","axis":null}}},
{"data":{"values":[{}]},"mark":{"type":"text","text":"β","align":"left","baseline":"alphabetic","font":"Liberation Serif","fontStyle":"italic","fontSize":25,"dx":-92,"color":"#ff0000"},"encoding":{"x":{"datum":2.528,"type":"quantitative","axis":null},"y":{"datum":0.01387,"type":"quantitative","axis":null}}},
{"data":{"values":[{}]},"mark":{"type":"text","text":"K","align":"left","baseline":"alphabetic","font":"Liberation Sans","fontSize":15,"dx":-77,"dy":6,"color":"#ff0000"},"encoding":{"x":{"datum":2.528,"type":"quantitative","axis":null},"y":{"datum":0.01387,"type":"quantitative","axis":null}}},

{"data":{"values":[{}]},"mark":{"type":"text","text":"(","align":"left","baseline":"alphabetic","font":"Liberation Sans","fontSize":26,"color":"#000"},"encoding":{"x":{"datum":1.70,"type":"quantitative","axis":null},"y":{"datum":0.00433,"type":"quantitative","axis":null}}},
{"data":{"values":[{}]},"mark":{"type":"text","text":"t","align":"left","baseline":"alphabetic","font":"Liberation Sans","fontStyle":"italic","fontSize":26,"dx":9,"color":"#000"},"encoding":{"x":{"datum":1.70,"type":"quantitative","axis":null},"y":{"datum":0.00433,"type":"quantitative","axis":null}}},
{"data":{"values":[{}]},"mark":{"type":"text","text":"/","align":"left","baseline":"alphabetic","font":"Liberation Sans","fontSize":26,"dx":16,"color":"#000"},"encoding":{"x":{"datum":1.70,"type":"quantitative","axis":null},"y":{"datum":0.00433,"type":"quantitative","axis":null}}},
{"data":{"values":[{}]},"mark":{"type":"text","text":"τ","align":"left","baseline":"alphabetic","font":"Liberation Serif","fontStyle":"italic","fontSize":26,"dx":23,"color":"#000"},"encoding":{"x":{"datum":1.70,"type":"quantitative","axis":null},"y":{"datum":0.00433,"type":"quantitative","axis":null}}},
{"data":{"values":[{}]},"mark":{"type":"text","text":"K","align":"left","baseline":"alphabetic","font":"Liberation Serif","fontSize":16,"dx":34,"dy":7,"color":"#000"},"encoding":{"x":{"datum":1.70,"type":"quantitative","axis":null},"y":{"datum":0.00433,"type":"quantitative","axis":null}}},
{"data":{"values":[{}]},"mark":{"type":"text","text":")","align":"left","baseline":"alphabetic","font":"Liberation Sans","fontSize":26,"dx":47,"color":"#000"},"encoding":{"x":{"datum":1.70,"type":"quantitative","axis":null},"y":{"datum":0.00433,"type":"quantitative","axis":null}}},
{"data":{"values":[{}]},"mark":{"type":"text","text":"β","align":"left","baseline":"alphabetic","font":"Liberation Serif","fontStyle":"italic","fontSize":16,"dx":56,"dy":-15,"color":"#000"},"encoding":{"x":{"datum":1.70,"type":"quantitative","axis":null},"y":{"datum":0.00433,"type":"quantitative","axis":null}}},
{"data":{"values":[{}]},"mark":{"type":"text","text":"K","align":"left","baseline":"alphabetic","font":"Liberation Serif","fontSize":9,"dx":64,"dy":-12,"color":"#000"},"encoding":{"x":{"datum":1.70,"type":"quantitative","axis":null},"y":{"datum":0.00433,"type":"quantitative","axis":null}}},

{"data":{"values":[{}]},"mark":{"type":"text","text":"C","angle":270,"align":"left","baseline":"alphabetic","font":"Liberation Sans","fontSize":28,"color":"#000"},"encoding":{"x":{"datum":-0.502,"type":"quantitative","axis":null},"y":{"datum":0.052,"type":"quantitative","axis":null}}},
{"data":{"values":[{}]},"mark":{"type":"text","text":"2","angle":270,"align":"left","baseline":"alphabetic","font":"Liberation Sans","fontSize":17,"dx":20,"dy":7,"color":"#000"},"encoding":{"x":{"datum":-0.502,"type":"quantitative","axis":null},"y":{"datum":0.052,"type":"quantitative","axis":null}}},
{"data":{"values":[{}]},"mark":{"type":"text","text":"(","angle":270,"align":"left","baseline":"alphabetic","font":"Liberation Sans","fontSize":28,"dx":30,"color":"#000"},"encoding":{"x":{"datum":-0.502,"type":"quantitative","axis":null},"y":{"datum":0.052,"type":"quantitative","axis":null}}},
{"data":{"values":[{}]},"mark":{"type":"text","text":"t","angle":270,"align":"left","baseline":"alphabetic","font":"Liberation Sans","fontStyle":"italic","fontSize":28,"dx":40,"color":"#000"},"encoding":{"x":{"datum":-0.502,"type":"quantitative","axis":null},"y":{"datum":0.052,"type":"quantitative","axis":null}}},
{"data":{"values":[{}]},"mark":{"type":"text","text":")","angle":270,"align":"left","baseline":"alphabetic","font":"Liberation Sans","fontSize":28,"dx":49,"color":"#000"},"encoding":{"x":{"datum":-0.502,"type":"quantitative","axis":null},"y":{"datum":0.052,"type":"quantitative","axis":null}}}
],
"resolve":{"axis":{"x":"independent","y":"independent"}}
},
{
"layer":[
{"data":{"values":[{}]},"mark":{"type":"rect","fill":"#ffffff","strokeWidth":0},
 "encoding":{
  "x":{"datum":173,"type":"quantitative","scale":{"domain":[240,460],"range":[305,488.5],"nice":false,"zero":false},
   "axis":{"orient":"bottom","offset":-227,"values":[250,275,300,325,350,375,400,425,450],"labelExpr":"datum.value % 50 == 0 ? datum.label : ''","tickSize":-4,"labelPadding":9,"labelFontSize":14,"labelColor":"#000","labelFlush":false,"labelOverlap":false,"tickColor":"#000","domain":false,"grid":false,"title":"T [K]","titleFontSize":19,"titleFontWeight":"normal","titleColor":"#000","titlePadding":3,"zindex":1}},
  "x2":{"datum":470},
  "y":{"datum":0.34,"type":"quantitative","scale":{"domain":[0.5,1.0],"range":[125,-13.7],"nice":false,"zero":false},
   "axis":{"orient":"left","offset":-305,"values":[0.5,0.6,0.7,0.8,0.9,1.0],"format":".1f","labelExpr":"indexof([0.6,0.8,1], datum.value) >= 0 ? datum.label : ''","tickSize":{"condition":{"test":"indexof([0.6,0.8,1], datum.value) >= 0","value":3},"value":-3},"labelPadding":2,"labelFontSize":14,"labelColor":"#000","labelOverlap":false,"labelFlush":false,"tickColor":"#000","domain":false,"grid":false,"title":null,"zindex":1}},
  "y2":{"datum":1.05}}},
{"data":{"values":[{}]},"mark":{"type":"rect","fill":"#ffffff","stroke":"#000000","strokeWidth":1.2},
 "encoding":{
  "x":{"datum":240,"type":"quantitative","axis":{"orient":"top","offset":13.7,"values":[250,275,300,325,350,375,400,425,450],"labels":false,"tickSize":-4,"tickColor":"#000","domain":false,"grid":false,"title":null,"zindex":1}},
  "x2":{"datum":460},
  "y":{"datum":0.5,"type":"quantitative","axis":null},
  "y2":{"datum":1.0}}},
{"data":{"values":[{}]},"mark":{"type":"rule","color":"#ff0000","strokeWidth":1.5},
 "encoding":{"x":{"datum":240,"type":"quantitative","axis":null},"x2":{"datum":460},"y":{"datum":0.71,"type":"quantitative","axis":null}}},
{"data":{"name":"beta"},"mark":{"type":"point","shape":"square","filled":true,"size":64,"color":"#000000","opacity":1},
 "encoding":{"x":{"field":"T","type":"quantitative","axis":null},"y":{"field":"b","type":"quantitative","axis":null}}},
{"data":{"values":[{}]},"mark":{"type":"text","text":"DHIQ","align":"left","baseline":"alphabetic","font":"Liberation Sans","fontSize":16,"color":"#000"},"encoding":{"x":{"datum":401.6,"type":"quantitative","axis":null},"y":{"datum":0.925,"type":"quantitative","axis":null}}},
{"data":{"values":[{}]},"mark":{"type":"text","text":"β","angle":270,"align":"left","baseline":"alphabetic","font":"Liberation Serif","fontStyle":"italic","fontSize":17,"color":"#000"},"encoding":{"x":{"datum":210.8,"type":"quantitative","axis":null},"y":{"datum":0.684,"type":"quantitative","axis":null}}},
{"data":{"values":[{}]},"mark":{"type":"text","text":"K","angle":270,"align":"left","baseline":"alphabetic","font":"Liberation Sans","fontSize":11,"dx":11,"dy":3,"color":"#000"},"encoding":{"x":{"datum":210.8,"type":"quantitative","axis":null},"y":{"datum":0.684,"type":"quantitative","axis":null}}}
],
"resolve":{"axis":{"x":"independent","y":"independent"}}
}
],
"resolve":{"scale":{"x":"independent","y":"independent"},"axis":{"x":"independent","y":"independent"}}
}
